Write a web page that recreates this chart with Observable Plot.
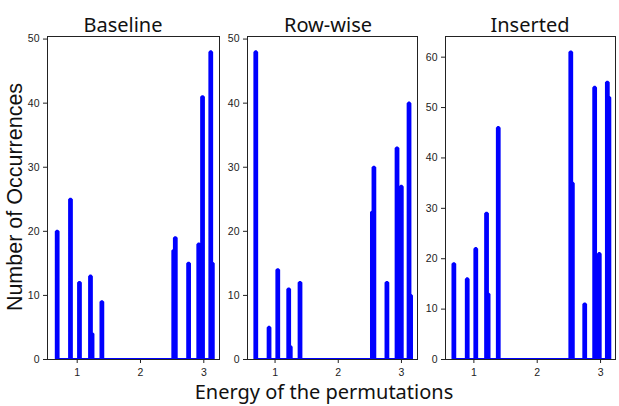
<!DOCTYPE html>
<html>
<head>
<meta charset="utf-8">
<script src="https://cdn.jsdelivr.net/npm/d3@7"></script>
<script src="https://cdn.jsdelivr.net/npm/@observablehq/plot@0.6"></script>
<style>
  html, body { margin: 0; padding: 0; background: #fff; }
  #chart { position: relative; width: 619px; height: 406px; overflow: hidden; background: #fff; }
  #chart .panel { position: absolute; top: 0; }
  #overlay { position: absolute; left: 0; top: 0; }
</style>
</head>
<body>
<div id="chart"></div>
<script>
// ---- data ----
const panelTitles = ["Baseline", "Row-wise", "Inserted"];
const xLabel = "Energy of the permutations";
const yLabel = "Number of Occurrences";
const xTicks = [1, 2, 3];
const yTicksLow = [0, 10, 20, 30, 40, 50];
const yTicksHigh = [0, 10, 20, 30, 40, 50, 60];
const binWidth = 0.0247;

const energyBaseline = [0.684, 0.894, 1.036, 1.21, 1.235, 1.39, 2.525, 2.55, 2.76, 2.92, 2.98, 3.11, 3.135];
const countBaseline  = [20, 25, 12, 13, 4, 9, 17, 19, 15, 18, 41, 48, 15];

const energyRowwise = [0.695, 0.905, 1.043, 1.216, 1.241, 1.395, 2.54, 2.564, 2.77, 2.93, 2.998, 3.12, 3.145];
const countRowwise  = [48, 5, 14, 11, 2, 12, 23, 30, 12, 33, 27, 40, 10];

const energyInserted = [0.684, 0.895, 1.03, 1.2, 1.225, 1.385, 2.53, 2.555, 2.75, 2.907, 2.98, 3.107, 3.132];
const countInserted  = [19, 16, 22, 29, 13, 46, 61, 35, 11, 54, 21, 55, 52];

// ---- build a step-outline histogram from the bins ----
function stepPoints(energies, counts) {
  const bins = energies.map((e, i) => ({x0: e - binWidth / 2, x1: e + binWidth / 2, c: counts[i]}))
    .sort((a, b) => a.x0 - b.x0);
  const pts = [];
  let prevEnd = null;
  for (const b of bins) {
    let x0 = b.x0;
    if (prevEnd !== null && Math.abs(x0 - prevEnd) < 0.003) {
      x0 = prevEnd;
    } else {
      if (prevEnd !== null) pts.push({x: prevEnd, y: 0});
      pts.push({x: x0, y: 0});
    }
    pts.push({x: x0, y: b.c});
    pts.push({x: b.x1, y: b.c});
    prevEnd = b.x1;
  }
  pts.push({x: prevEnd, y: 0});
  return pts;
}

const panels = [
  {title: panelTitles[0], energies: energyBaseline, counts: countBaseline, left: 47, right: 219, xDomain: [0.531, 3.248], yMax: 50.4, yTicks: yTicksLow, titleX: 123},
  {title: panelTitles[1], energies: energyRowwise, counts: countRowwise, left: 247, right: 417, xDomain: [0.564, 3.254], yMax: 50.4, yTicks: yTicksLow, titleX: 328},
  {title: panelTitles[2], energies: energyInserted, counts: countInserted, left: 445, right: 615, xDomain: [0.552, 3.236], yMax: 64.1, yTicks: yTicksHigh, titleX: 530}
];

const chart = document.getElementById("chart");
const mL = 34, mR = 4, mT = 36, mB = 47, H = 406;

for (const p of panels) {
  const w = (p.right - p.left) + mL + mR;
  const svg = Plot.plot({
    width: w,
    height: H,
    marginLeft: mL,
    marginRight: mR,
    marginTop: mT,
    marginBottom: mB,
    style: {fontFamily: "'Liberation Sans', Arial, sans-serif", fontSize: "10.5px", color: "#222", background: "transparent", overflow: "visible"},
    x: {domain: p.xDomain},
    y: {domain: [0, p.yMax]},
    marks: [
      Plot.line(stepPoints(p.energies, p.counts), {x: "x", y: "y", stroke: "#0000ff", strokeWidth: 3.2, strokeLinejoin: "miter", strokeLinecap: "butt", clip: true}),
      Plot.frame({stroke: "#222", strokeWidth: 1}),
      Plot.axisX({ticks: xTicks, tickSize: 4, tickPadding: 5, label: null, tickFormat: d3.format("d")}),
      Plot.axisY({ticks: p.yTicks, tickSize: 4, tickPadding: 4, label: null, tickFormat: d3.format("d")})
    ]
  });
  svg.classList.add("panel");
  svg.style.left = (p.left - mL) + "px";
  chart.appendChild(svg);
}

// ---- titles and axis labels ----
const overlay = d3.select(chart).append("svg")
  .attr("id", "overlay")
  .attr("width", 619).attr("height", 406);

overlay.selectAll("text.title")
  .data(panels)
  .join("text")
  .attr("class", "title")
  .attr("x", d => d.titleX)
  .attr("y", 32)
  .attr("text-anchor", "middle")
  .style("font-family", "'Noto Sans', 'Open Sans', sans-serif")
  .style("font-size", "20px")
  .style("fill", "#111")
  .text(d => d.title);

overlay.append("text")
  .attr("x", 324).attr("y", 399)
  .attr("text-anchor", "middle")
  .style("font-family", "'Noto Sans', 'Open Sans', sans-serif")
  .style("font-size", "20px")
  .style("fill", "#111")
  .text(xLabel);

overlay.append("text")
  .attr("transform", "translate(22,197) rotate(-90)")
  .attr("text-anchor", "middle")
  .style("font-family", "'Liberation Sans', Arial, sans-serif")
  .style("font-size", "21.5px")
  .style("fill", "#111")
  .text(yLabel);
</script>
</body>
</html>
